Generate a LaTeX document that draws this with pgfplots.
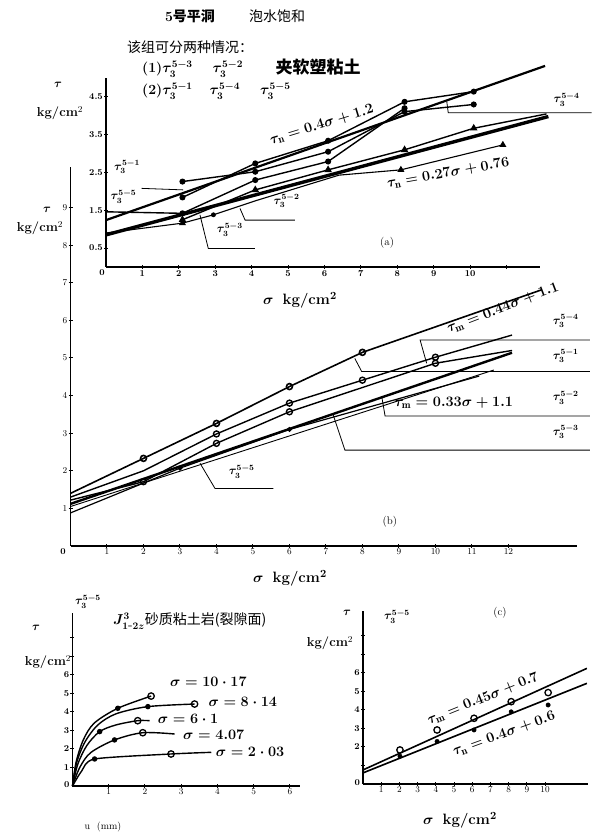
\documentclass[border=0pt]{standalone}
\usepackage{pgfplots}
\pgfplotsset{compat=1.18}
\usepackage{fontspec}
\newfontfamily\cjk{Noto Sans CJK SC}
\pgfplotsset{
  panel/.style={scale only axis, axis lines=left, axis line style={-, line width=1.3pt},
    tick style={line width=1pt, black}, major tick length=4pt, tick align=center,
    clip=false, xmin=0, ymin=0,
    tick label style={font=\fontsize{9}{10}\selectfont\bfseries}},
  ln/.style={line width=1.4pt, black},
}
\tikzset{lab/.style={font=\fontsize{12}{14}\selectfont\boldmath}, eq/.style={font=\fontsize{15}{17}\selectfont\boldmath},
  every node/.append style={inner sep=1pt}}
\begin{document}
\begin{tikzpicture}[x=1pt,y=1pt]
\useasboundingbox (0,0) rectangle (592,838);
\fill[white] (0,0) rectangle (592,838);
% ---------- header ----------
\node[font=\fontsize{14}{16}\selectfont\bfseries] at (190,822) {5{\cjk 号平洞}};
\node[font=\fontsize{14}{16}\selectfont\cjk] at (277,822) {泡水饱和};
\node[anchor=west, font=\fontsize{14}{16}\selectfont\cjk] at (126,791) {该组可分两种情况：};
\node[anchor=west, font=\fontsize{14}{16}\selectfont\boldmath] at (141,769) {\textbf{(1)}$\tau^{5-3}_{3}$\hspace{20pt}$\tau^{5-2}_{3}$};
\node[font=\fontsize{17}{19}\selectfont\cjk\bfseries] at (318,771) {夹软塑粘土};
\node[anchor=west, font=\fontsize{14}{16}\selectfont\boldmath] at (141,747) {\textbf{(2)}$\tau^{5-1}_{3}$\hspace{17pt}$\tau^{5-4}_{3}$\hspace{20pt}$\tau^{5-5}_{3}$};
% axis labels outside
\node[font=\fontsize{13}{15}\selectfont\boldmath] at (58,753) {$\tau$};
\node[font=\fontsize{13}{15}\selectfont\bfseries] at (60,725) {kg/cm$^2$};
\node[font=\fontsize{13}{15}\selectfont\boldmath] at (47,628) {$\tau$};
\node[font=\fontsize{13}{15}\selectfont\bfseries] at (40,610) {kg/cm$^2$};
\node[font=\fontsize{15}{17}\selectfont\boldmath] at (300,538) {$\sigma$\ \ \textbf{kg/cm$^2$}};
\node[font=\fontsize{15}{17}\selectfont\boldmath] at (290,260) {$\sigma$\ \ \textbf{kg/cm$^2$}};
\node[font=\fontsize{13}{15}\selectfont\boldmath] at (36,210) {$\tau$};
\node[font=\fontsize{13}{15}\selectfont\bfseries] at (48,176) {kg/cm$^2$};
\node[font=\fontsize{12}{14}\selectfont\boldmath] at (88,236) {$\tau^{5-5}_{3}$};
\node[anchor=west, font=\fontsize{14}{16}\selectfont\boldmath] at (112,217) {$J^{3}_{1\mbox{-}2z}${\cjk 砂质粘土岩(裂隙面)}};
\node[font=\fontsize{10}{12}\selectfont] at (103,11) {u\ \ (mm)};
\node[font=\fontsize{13}{15}\selectfont\boldmath] at (347,225) {$\tau$};
\node[font=\fontsize{13}{15}\selectfont\bfseries] at (330,195) {kg/cm$^2$};
\node[font=\fontsize{12}{14}\selectfont\boldmath] at (397,221) {$\tau^{5-5}_{3}$};
\node[font=\fontsize{11}{13}\selectfont] at (500,225) {(c)};
\node[font=\fontsize{15}{17}\selectfont\boldmath] at (460,18) {$\sigma$\ \ \textbf{kg/cm$^2$}};
% ---------- panel (a) ----------
\begin{axis}[panel, at={(106pt,571pt)}, anchor=south west, width=434pt, height=189pt,
  xmax=11.92, ymax=5.0, xtick={1,2,3,4,5,6,7,8,9,10,11}, xticklabels={1,2,3,4,5,6,7,8,9,10,{}},
  ytick={0.5,1.5,2.5,3.5,4.5}, yticklabels={0.5,1.5,2.5,3.5,4.5}]
\addplot[line width=2.2pt] coordinates {(0,1.24) (12.06,5.32)};
\addplot[ln, mark=*, mark size=2.3pt] coordinates {(2.1,2.26) (4.1,2.52) (6.1,3.05) (8.2,4.11) (10.1,4.30)};
\addplot[ln, mark=*, mark size=2.3pt] coordinates {(2.1,1.84) (4.1,2.74) (6.1,3.34) (8.2,4.37) (10.1,4.64)};
\addplot[ln, mark=*, mark size=2.3pt, mark indices={2,3,4,5}] coordinates {(0,1.46) (2.1,1.42) (4.1,2.30) (6.1,2.79) (8.2,4.2)};
\addplot[line width=3.4pt] coordinates {(0,0.85) (12.15,3.98)};
\addplot[ln, mark=triangle*, mark size=3pt, mark indices={1,2,3,4,5}] coordinates {(2.1,1.25) (4.1,2.04) (6.1,2.57) (8.2,3.10) (10.1,3.67) (12.1,4.05)};
\addplot[line width=1.1pt, mark=triangle*, mark size=3pt, mark indices={2,6,7}] coordinates {(0,0.9) (2.1,1.16) (2.95,1.38) (4.1,1.75) (6.4,2.43) (8.1,2.57) (10.9,3.23)};
\addplot[only marks, mark=*, mark size=2.2pt] coordinates {(2.95,1.38)};
\node[font=\fontsize{9}{10}\selectfont\bfseries, anchor=north east] at (0,-0.05) {0};
\draw[line width=0.8pt] (3.68,1.55) -- (3.82,1.24) -- (5.19,1.24);
\node[lab] at (4.96,1.74) {$\tau^{5-2}_{3}$};
\draw[line width=0.8pt] (2.58,1.38) -- (2.81,0.49) -- (4.09,0.49);
\node[lab] at (3.4,0.98) {$\tau^{5-3}_{3}$};
\draw[line width=0.8pt] (9.36,4.37) -- (9.4,4.08) -- (13.34,4.08);
\node[lab] at (12.65,4.42) {$\tau^{5-4}_{3}$};
\draw[line width=0.8pt] (0.98,2.08) -- (2.12,2.04);
\node[lab] at (0.48,1.86) {$\tau^{5-5}_{3}$};
\node[lab] at (0.58,2.64) {$\tau^{5-1}_{3}$};
\node[eq, rotate=17] at (5.93,3.76) {$\tau_{\mathrm{n}}=0.4\sigma+1.2$};
\node[eq, rotate=10] at (9.4,2.48) {$\tau_{\mathrm{n}}=0.27\sigma+0.76$};
\node[font=\fontsize{11}{13}\selectfont] at (7.72,0.63) {(a)};
\end{axis}
% ---------- panel (b) ----------
\begin{axis}[panel, at={(70.5pt,292pt)}, anchor=south west, width=506.5pt, height=379pt,
  xmax=13.88, ymax=10.08, xtick={1,2,3,4,5,6,7,8,9,10,11,12}, ytick={1,2,3,4,5,6,7,8,9}]
\addplot[line width=1.6pt, mark=o, mark size=3pt, mark indices={2,3,4,5}] coordinates {(0,1.40) (2,2.33) (4,3.26) (6,4.24) (8,5.15) (12.9,6.81)};
\addplot[ln, mark=o, mark size=3pt, mark indices={3,4,5,6}] coordinates {(0,1.30) (2,2.0) (4,2.98) (6,3.80) (8,4.41) (10,5.02) (12.1,5.61)};
\addplot[ln, mark=o, mark size=3pt, mark indices={2,3,4,5}] coordinates {(0,1.22) (2,1.71) (4,2.73) (6,3.57) (10,4.86) (12.1,5.2)};
\addplot[line width=2.4pt] coordinates {(0,1.12) (12.1,5.14)};
\addplot[line width=1.2pt, mark=*, mark size=1.8pt, mark indices={2,3}] coordinates {(0,0.88) (3,2.07) (6,3.1) (11.2,4.52)};
\addplot[line width=0.9pt] coordinates {(0,1.05) (11.6,4.68)};
\node[font=\fontsize{9}{10}\selectfont\bfseries, anchor=north east] at (-0.1,-0.05) {0};
\draw[line width=0.8pt] (9.76,4.86) -- (9.58,5.48) -- (14.23,5.48);
\node[lab] at (13.57,5.98) {$\tau^{5-4}_{3}$};
\draw[line width=0.8pt] (7.79,4.99) -- (7.98,4.64) -- (14.23,4.64);
\node[lab] at (13.57,5.05) {$\tau^{5-1}_{3}$};
\draw[line width=0.8pt] (8.53,3.97) -- (8.62,3.46) -- (14.23,3.46);
\node[lab] at (13.57,3.94) {$\tau^{5-2}_{3}$};
\node[eq] at (10.5,3.8) {$\tau_{\mathrm{m}}=0.33\sigma+1.1$};
\draw[line width=0.8pt] (7.2,3.48) -- (7.52,2.55) -- (14.23,2.55);
\node[lab] at (13.57,3.03) {$\tau^{5-3}_{3}$};
\draw[line width=0.8pt] (3.55,2.2) -- (3.96,1.53) -- (5.56,1.53);
\node[lab] at (4.69,1.98) {$\tau^{5-5}_{3}$};
\node[eq, rotate=21] at (11.85,6.32) {$\tau_{\mathrm{m}}=0.44\sigma+1.1$};
\node[font=\fontsize{11}{13}\selectfont] at (8.75,0.64) {(b)};
\end{axis}
% ---------- panel (c) left ----------
\begin{axis}[panel, at={(72.5pt,52pt)}, anchor=south west, width=227.5pt, height=173pt,
  xmax=6.28, ymax=9.35, xtick={1,2,3,4,5,6}, ytick={1,2,3,4,5,6,7,8}, yticklabels={1,2,3,4,5,6,{},{}}]
\addplot[ln, smooth, tension=0.5, mark=*, mark size=2pt, mark indices={5}] coordinates {(0,0) (0.1,1.3) (0.3,2.5) (0.6,3.4) (1.25,4.2) (2.17,4.86)};
\addplot[ln, smooth, tension=0.5, mark=*, mark size=2pt, mark indices={6}] coordinates {(0,0) (0.12,1.3) (0.35,2.4) (0.7,3.3) (1.2,3.9) (2.08,4.29) (3.37,4.43)};
\addplot[ln, smooth, tension=0.5, mark=*, mark size=2pt, mark indices={4}] coordinates {(0,0) (0.15,1.2) (0.4,2.2) (0.75,2.94) (1.2,3.3) (1.8,3.53) (2.13,3.53)};
\addplot[ln, smooth, tension=0.5, mark=*, mark size=2pt, mark indices={4}] coordinates {(0,0) (0.2,1.0) (0.5,1.8) (1.16,2.49) (1.94,2.88) (2.82,2.81)};
\addplot[ln, smooth, tension=0.4, mark=*, mark size=2pt, mark indices={3}] coordinates {(0,0) (0.25,0.8) (0.61,1.46) (2.72,1.73) (3.83,1.82)};
\addplot[only marks, mark=o, mark size=3.2pt, line width=1.3pt, mark options={fill=white}] coordinates {(2.17,4.86) (3.37,4.43) (1.8,3.53) (1.94,2.88) (2.72,1.73)};
\node[font=\fontsize{9}{10}\selectfont\bfseries, anchor=east] at (-0.05,0.1) {0};
\node[eq] at (3.75,5.62) {$\sigma=10\cdot17$};
\node[eq] at (4.7,4.54) {$\sigma=8\cdot14$};
\node[eq] at (3.19,3.62) {$\sigma=6\cdot1$};
\node[eq] at (3.9,2.78) {$\sigma=4.07$};
\node[eq] at (4.9,1.84) {$\sigma=2\cdot03$};
\end{axis}
% ---------- panel (c) right ----------
\begin{axis}[panel, at={(363pt,54pt)}, anchor=south west, width=225pt, height=173pt,
  xmax=12.36, ymax=9.35, xtick={1,2,3,4,5,6,7,8,9,10}, ytick={1,2,3,4,5,6,7,8}, yticklabels={{},2,3,4,5,6,{},{}}]
\addplot[line width=1.6pt] coordinates {(0,0.76) (12.3,6.25)};
\addplot[line width=1.6pt] coordinates {(0,0.6) (12.3,5.44)};
\addplot[only marks, mark=o, mark size=3.2pt, line width=1.3pt] coordinates {(2.03,1.84) (4.07,2.92) (6.1,3.55) (8.14,4.45) (10.17,4.94)};
\addplot[only marks, mark=*, mark size=2.2pt] coordinates {(2.03,1.5) (4.07,2.3) (6.1,2.92) (8.14,3.9) (10.17,4.27)};
\node[font=\fontsize{9}{10}\selectfont\bfseries, anchor=east] at (-0.1,0.1) {0};
\node[eq, rotate=22] at (6.6,4.6) {$\tau_{\mathrm{m}}=0.45\sigma+0.7$};
\node[eq, rotate=20] at (7.75,2.7) {$\tau_{\mathrm{n}}=0.4\sigma+0.6$};
\end{axis}
\end{tikzpicture}
\end{document}
